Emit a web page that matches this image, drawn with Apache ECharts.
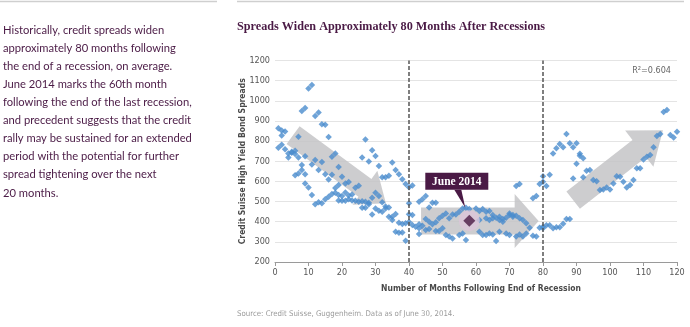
<!DOCTYPE html>
<html>
<head>
<meta charset="utf-8">
<script src="https://cdn.jsdelivr.net/npm/echarts@6/dist/echarts.min.js"></script>
<style>
  html, body { margin: 0; padding: 0; background: #fff; }
  #chart { width: 690px; height: 327px; }
</style>
</head>
<body>
<div id="chart"></div>
<script>
// Months since end of recession vs. CS High Yield spread (bps)
const pointsEarly = [
  [1,864],[1,767],[2,853],[2,828],[2,782],[3,848],[3,759],[4,739],[4,719],[5,742],[5,747],
  [6,752],[6,736],[7,719],[7,821],[6,631],[7,639],[8,949],[8,682],[8,656],[9,964],[9,725],
  [9,636],[9,590],[10,1061],[10,570],[11,1078],[11,684],[11,532],[12,925],[12,706],[12,486],
  [13,942],[13,656],[13,496],[14,884],[14,696],[14,491],[15,881],[15,635],[15,512],[16,820],
  [16,610],[16,524],[17,722],[17,633],[17,537],[18,739],[18,567],[18,544],[19,672],[19,582],
  [19,532],[19,505],[20,623],[20,527],[20,504],[21,590],[21,545],[21,504],[22,597],[22,530],
  [22,512],[23,535],[23,505],[24,568],[24,504],[25,578],[25,499]
];
const pointsMiddle = [
  [26,719],[26,502],[26,469],[27,808],[27,499],[27,469],[28,699],[28,494],[28,486],[29,754],
  [29,519],[29,436],[30,726],[30,544],[30,466],[31,676],[31,527],[31,454],[32,621],[32,496],
  [32,449],[33,621],[33,476],[33,466],[34,628],[34,471],[34,425],[35,694],[35,425],[35,408],
  [36,656],[36,438],[36,350],[37,635],[37,395],[37,345],[38,611],[38,388],[38,347],[39,587],
  [39,392],[39,306],[40,571],[40,491],[40,437],[40,398],[41,580],[41,433],[41,384],[42,375],
  [43,499],[43,387],[44,511],[43,367],[44,380],[43,339],[45,527],[45,359],[46,471],[45,413],
  [46,400],[46,364],[47,494],[47,387],[48,494],[48,397],[48,354],[49,417],[49,354],[50,430],
  [50,367],[51,441],[51,334],[52,417],[52,326],[53,436],[53,317],[54,436],[55,450],[55,334],
  [56,466],[56,342],[57,469],[57,309],[58,463]
];
const pointsLate = [
  [60,466],[61,453],[61,350],[61,408],[62,463],[62,334],[63,450],[63,417],[63,334],[64,453],
  [64,408],[64,342],[65,433],[65,417],[65,337],[66,420],[66,304],[67,425],[67,408],[67,350],
  [68,413],[68,400],[69,420],[69,342],[70,441],[70,433],[70,334],[71,425],[71,433],[72,430],
  [72,577],[72,326],[73,587],[73,417],[73,337],[74,408],[74,326],[75,392],[75,342],[76,370],
  [77,516],[77,330],[78,527],[78,326],[79,587],[79,370],[80,598],[80,367],[80,626],[80,375],
  [81,577],[81,383],[82,633],[82,383],[83,739],[83,368],[84,764],[84,372],[85,786],[85,372],
  [86,769],[86,390],[87,835],[87,414],[88,789],[88,414],[89,769],[89,615],[90,789],[90,687],
  [91,737],[91,727],[92,715],[92,620],[93,653],[94,656],[95,607],[96,601],[97,557],[98,560],
  [99,570],[100,560],[101,590],[102,626],[103,623],[104,598],[105,570],[106,582],[107,607],
  [108,665],[109,665],[110,709],[111,722],[112,731],[113,769],[114,825],[115,835],[116,945],
  [117,954],[118,830],[119,818],[120,847]
];
// Highlighted reading: June 2014
const latestPoint = [58, 405];
const latestLabel = 'June 2014';
// Trend arrows: [fromMonth, fromSpread, toMonth, toSpread, bodyWidth, headWidth, headLength] (px sizes)
const trendArrows = [
  [5.4, 830, 33.1, 492, 22, 42, 26],
  [43.6, 404, 78.7, 404, 27, 54, 24],
  [89, 507, 115.8, 854, 22, 46, 30]
];
const recessionMarks = [40, 80];
const xTicks = { min: 0, max: 120, step: 10 };
const yTicks = { min: 200, max: 1200, step: 100 };

const purple = '#4a1a45';
const bodyFont = "Lato, 'Open Sans', sans-serif";
const narrowFont = "'Liberation Sans Narrow', 'DejaVu Sans Condensed', 'Liberation Sans', sans-serif";

const chart = echarts.init(document.getElementById('chart'), null, { renderer: 'canvas' });

function arrowItem(params, api) {
  const a = api.coord([api.value(0), api.value(1)]);
  const b = api.coord([api.value(2), api.value(3)]);
  const bw = api.value(4) / 2, hw = api.value(5) / 2, hl = api.value(6);
  const dx = b[0] - a[0], dy = b[1] - a[1];
  const len = Math.sqrt(dx * dx + dy * dy);
  const ux = dx / len, uy = dy / len, px = -uy, py = ux;
  const nx = b[0] - ux * hl, ny = b[1] - uy * hl;
  const pts = [
    [a[0] + px * bw, a[1] + py * bw],
    [nx + px * bw, ny + py * bw],
    [nx + px * hw, ny + py * hw],
    [b[0], b[1]],
    [nx - px * hw, ny - py * hw],
    [nx - px * bw, ny - py * bw],
    [a[0] - px * bw, a[1] - py * bw]
  ];
  return { type: 'polygon', shape: { points: pts }, style: { fill: '#c4c4c7', opacity: 0.85 } };
}

function calloutItem(params, api) {
  const p = api.coord([api.value(0), api.value(1)]);
  const w = 63, h = 17;
  const bx = p[0] - 44, by = p[1] - 48;
  return {
    type: 'group',
    children: [
      { type: 'polygon', shape: { points: [[p[0] - 15, by + h], [p[0] - 8, by + h], [p[0] - 4, p[1] - 13]] },
        style: { fill: purple } },
      { type: 'rect', shape: { x: bx, y: by, width: w, height: h }, style: { fill: purple } },
      { type: 'text', style: { x: bx + w / 2, y: by + h / 2 + 0.5, text: latestLabel, fill: '#fff',
          font: "bold 11.5px 'Liberation Serif', 'DejaVu Serif', serif", align: 'center', verticalAlign: 'middle' } }
    ]
  };
}

const introText = [
  'Historically, credit spreads widen',
  'approximately 80 months following',
  'the end of a recession, on average.',
  'June 2014 marks the 60th month',
  'following the end of the last recession,',
  'and precedent suggests that the credit',
  'rally may be sustained for an extended',
  'period with the potential for further',
  'spread tightening over the next',
  '20 months.'
].join('\n');

chart.setOption({
  animation: false,
  backgroundColor: '#fff',
  grid: { left: 275, right: 13, top: 60.5, bottom: 65 },
  xAxis: {
    type: 'value', min: xTicks.min, max: xTicks.max, interval: xTicks.step,
    name: 'Number of Months Following End of Recession',
    nameLocation: 'middle', nameGap: 22,
    nameTextStyle: { fontFamily: narrowFont, fontSize: 8.5, fontWeight: 'bold', color: '#4a4a4a',
      padding: [0, 0, 0, 10] },
    axisLine: { lineStyle: { color: '#9a9a9a', width: 1 } },
    axisTick: { show: true, length: 4, lineStyle: { color: '#9a9a9a' } },
    axisLabel: { fontFamily: narrowFont, fontSize: 9, color: '#555', margin: 6 },
    splitLine: { show: false }
  },
  yAxis: {
    type: 'value', min: yTicks.min, max: yTicks.max, interval: yTicks.step,
    name: 'Credit Suisse High Yield Bond Spreads',
    nameLocation: 'middle', nameGap: 28, nameMoveOverlap: false,
    nameTextStyle: { fontFamily: narrowFont, fontSize: 8.5, fontWeight: 'bold', color: '#4a4a4a' },
    axisLine: { show: false },
    axisTick: { show: false },
    axisLabel: { fontFamily: narrowFont, fontSize: 9, color: '#555', margin: 5,
      formatter: v => String(v) },
    splitLine: { lineStyle: { color: '#e4e4e4', width: 1.2 } }
  },
  graphic: [
    { type: 'line', shape: { x1: 0, y1: 1.5, x2: 217, y2: 1.5 }, style: { stroke: '#cfcfcf', lineWidth: 1.5 } },
    { type: 'line', shape: { x1: 237, y1: 1.5, x2: 684, y2: 1.5 }, style: { stroke: '#cfcfcf', lineWidth: 1.5 } },
    { type: 'text', left: 3, top: 21,
      style: { text: introText, font: '11.2px ' + bodyFont, fill: purple, lineHeight: 18.1 } },
    { type: 'text', left: 237, top: 21,
      style: { text: 'Spreads Widen Approximately 80 Months After Recessions',
        font: "bold 12.2px 'Liberation Serif', 'DejaVu Serif', serif", fill: purple } },
    { type: 'text', right: 19, top: 66,
      style: { text: 'R\u00b2=0.604', font: '9px ' + narrowFont, fill: '#666' } },
    { type: 'text', left: 237, top: 310,
      style: { text: 'Source: Credit Suisse, Guggenheim. Data as of June 30, 2014.',
        font: '7.8px ' + narrowFont, fill: '#9a9a9a' } }
  ],
  series: [
    {
      type: 'custom', renderItem: arrowItem, data: trendArrows, z: 1, silent: true,
      encode: { x: [0, 2], y: [1, 3] }
    },
    {
      type: 'scatter', data: pointsEarly.concat(pointsMiddle, pointsLate), z: 3,
      symbol: 'diamond', symbolSize: 6.5,
      itemStyle: { color: '#4a8ccd' },
      markLine: {
        silent: true, symbol: 'none', label: { show: false },
        lineStyle: { color: '#555', type: [4, 2], width: 1.5 },
        data: recessionMarks.map(v => ({ xAxis: v }))
      }
    },
    {
      type: 'scatter', data: [latestPoint], z: 4,
      symbol: 'circle', symbolSize: 21, itemStyle: { color: '#dcc6da' }
    },
    {
      type: 'scatter', data: [latestPoint], z: 5,
      symbol: 'diamond', symbolSize: 12, itemStyle: { color: purple }
    },
    {
      type: 'custom', renderItem: calloutItem, data: [latestPoint], z: 6, silent: true
    }
  ]
});
</script>
</body>
</html>
